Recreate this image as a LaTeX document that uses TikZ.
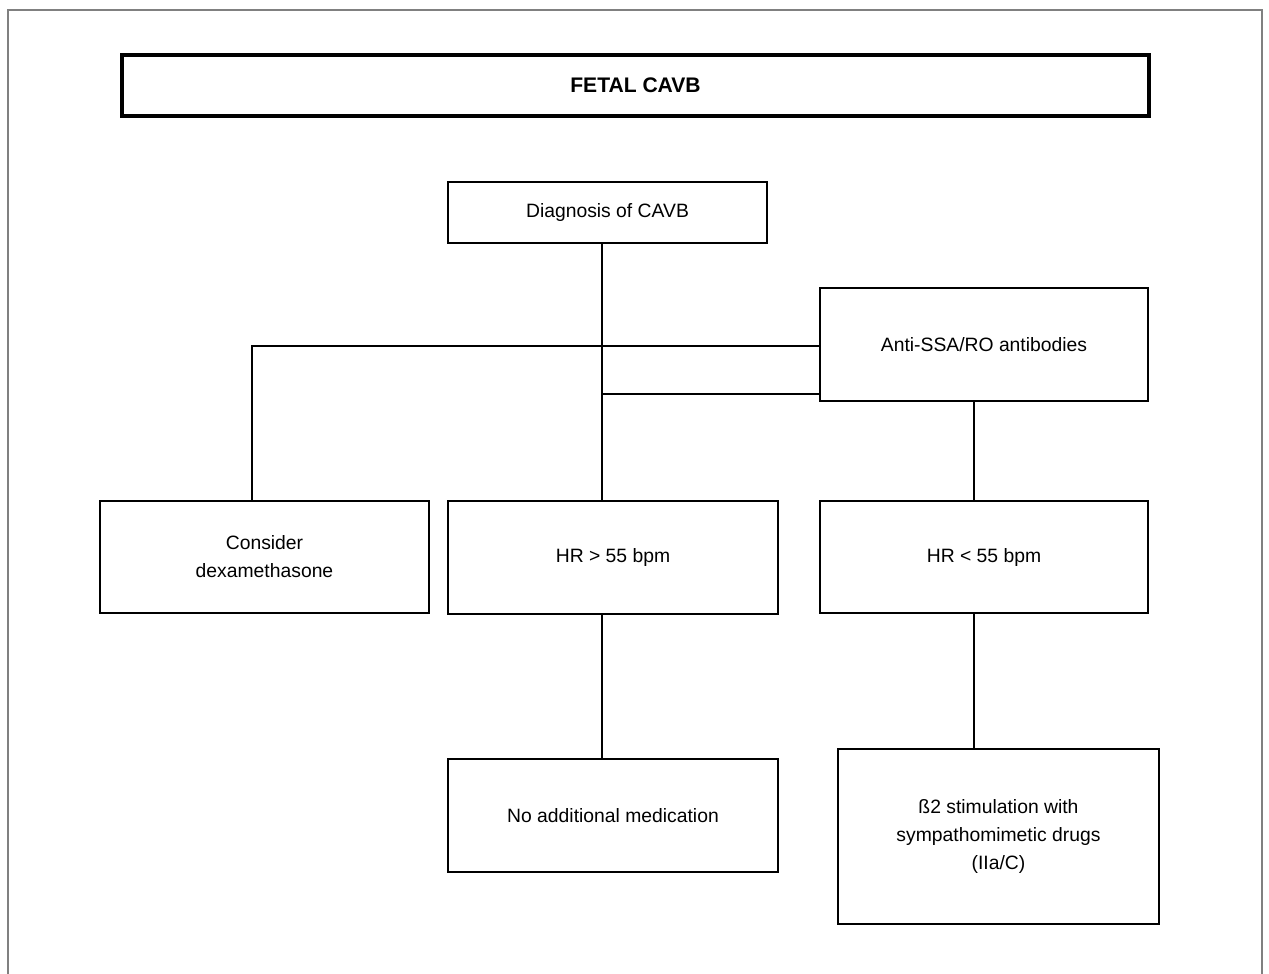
\documentclass[tikz,border=0pt]{standalone}
\usepackage{fontspec}
\setmainfont{Liberation Sans}
\usetikzlibrary{calc}

\begin{document}
\begin{tikzpicture}[x=0.02cm,y=-0.02cm,
	box/.style={draw, line width=1.5pt, align=center, inner sep=0pt,
		font=\fontsize{11}{16}\selectfont},
	size/.style 2 args={minimum width=#1*0.02cm, minimum height=#2*0.02cm},
	link/.style={line width=1.2pt}]

		\useasboundingbox (0,0) rectangle (1269,974);

		% outer frame, open at the bottom
		\draw [gray, line width=0.6pt] (8,974)--(8,10)--(1262,10)--(1262,974);

		\coordinate (trunk) at (602,0);
		\coordinate (left) at (252,0);
		\coordinate (side) at (974,0);

		\node [box, size={1027}{61}, line width=1.8pt,
			font=\fontsize{12}{14}\selectfont\bfseries] (title) at (635.5,85.5) {FETAL CAVB};

		\node [box, size={319}{61}] (diag) at (607.5,212.5) {Diagnosis of CAVB};
		\node [box, size={328}{113}] (anti) at (984,344.5) {Anti-SSA/RO antibodies};

		\node [box, size={329}{112}] (dexa) at (264.5,557) {Consider\\dexamethasone};
		\node [box, size={330}{113}] (hrhi) at (613,557.5) {HR > 55 bpm};
		\node [box, size={328}{112}] (hrlo) at (984,557) {HR < 55 bpm};

		\node [box, size={330}{113}] (nomed) at (613,815.5) {No additional medication};
		\node [box, size={321}{175}] (beta) at (998.5,836.5) {ß2 stimulation with\\sympathomimetic drugs\\(IIa/C)};

		\coordinate (low) at ($(anti.south west)+(0,-8)$);

		\draw [link] (diag.south -| trunk)--(hrhi.north -| trunk);
		\draw [link] ($(anti.west)+(0,1.5)$) -| (dexa.north -| left);
		\draw [link] (low)--(low -| trunk);
		\draw [link] (anti.south -| side)--(hrlo.north -| side);
		\draw [link] (hrhi.south -| trunk)--(nomed.north -| trunk);
		\draw [link] (hrlo.south -| side)--(beta.north -| side);

\end{tikzpicture}
\end{document}
